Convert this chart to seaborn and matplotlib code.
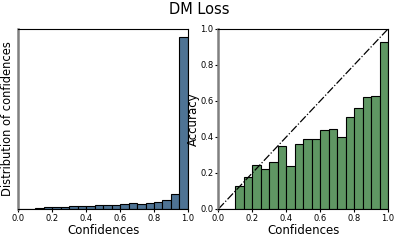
import matplotlib
matplotlib.use('Agg')
import matplotlib.pyplot as plt
import seaborn as sns
import pandas as pd
import numpy as np

# bins of width 0.05 over [0, 1]
bin_centers = np.round(np.arange(0.025, 1.0, 0.05), 3)

# relative share of samples per confidence bin
conf_dist = [0.0, 0.1, 1.0, 2.0, 2.0, 2.0, 3.0, 3.0, 3.0, 4.0,
             4.0, 4.0, 5.0, 6.0, 5.0, 6.0, 7.0, 9.0, 15.0, 170.0]

# accuracy per confidence bin (first two bins empty)
accuracy = [0.0, 0.0, 0.13, 0.18, 0.245, 0.22, 0.26, 0.35, 0.24, 0.36,
            0.39, 0.39, 0.44, 0.445, 0.40, 0.51, 0.56, 0.62, 0.63, 0.925]

ticks = [0.0, 0.2, 0.4, 0.6, 0.8, 1.0]

df = pd.DataFrame({'conf': bin_centers, 'count': conf_dist, 'acc': accuracy})

fig, (ax1, ax2) = plt.subplots(1, 2, figsize=(3.98, 2.41), dpi=100)
fig.subplots_adjust(left=0.046, right=0.975, top=0.88, bottom=0.133, wspace=0.18)

sns.histplot(data=df, x='conf', weights='count', binwidth=0.05, binrange=(0, 1),
             ax=ax1, color='#4e7394', alpha=1, edgecolor='black', linewidth=0.8)
ax1.set_xlim(0, 1)
ax1.set_yticks([])
ax1.set_xticks(ticks)
ax1.set_xlabel('Confidences', fontsize=8.5, labelpad=1)
ax1.set_ylabel('Distribution of confidences', fontsize=8.3, labelpad=3)

sns.histplot(data=df, x='conf', weights='acc', binwidth=0.05, binrange=(0, 1),
             ax=ax2, color='#5f9763', alpha=1, edgecolor='black', linewidth=0.8)
ax2.plot([0, 1], [0, 1], color='black', linestyle='-.', linewidth=0.9)
ax2.set_xlim(0, 1)
ax2.set_ylim(0, 1)
ax2.set_xticks(ticks)
ax2.set_yticks(ticks)
ax2.set_xlabel('Confidences', fontsize=8.5, labelpad=1)
ax2.set_ylabel('Accuracy', fontsize=8.5, labelpad=0.5)

for ax in (ax1, ax2):
    ax.tick_params(labelsize=6, length=2.5, pad=1)
    ax.spines['left'].set_color('#808080')
    ax.spines['left'].set_linewidth(1.8)

fig.suptitle('DM Loss', fontsize=10.5, y=0.99)

fig.savefig('out.png', dpi=100)
